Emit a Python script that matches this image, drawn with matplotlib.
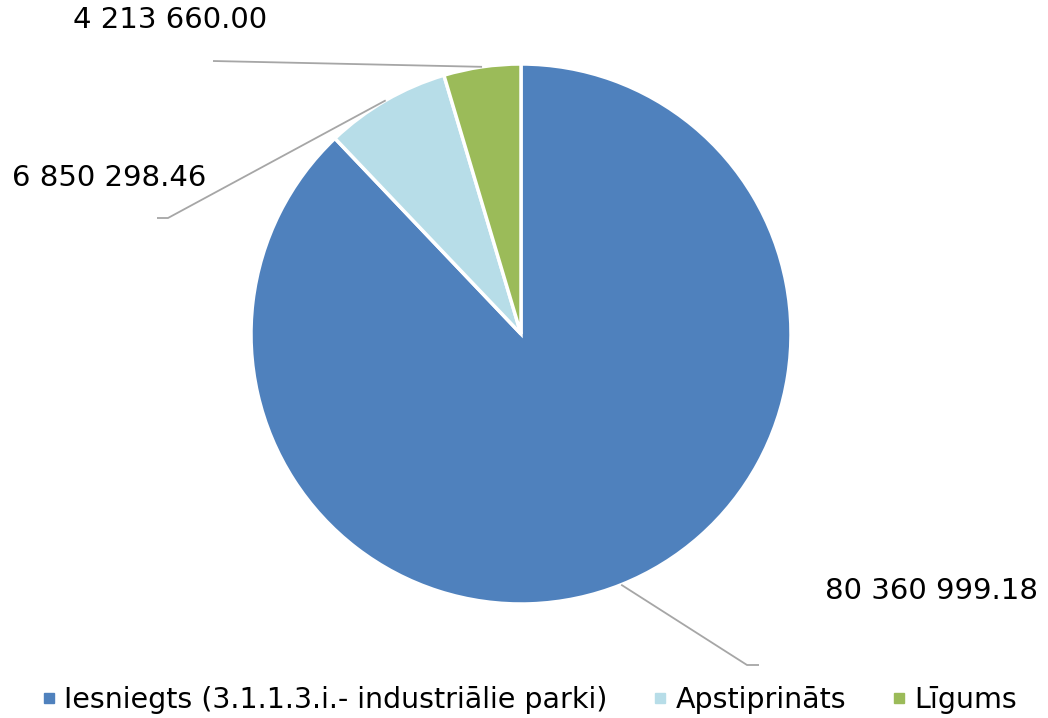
import numpy as np
import matplotlib.pyplot as plt
from matplotlib.lines import Line2D

categories = ['Iesniegts (3.1.1.3.i.- industriālie parki)', 'Apstiprināts', 'Līgums']
values = [80360999.18, 6850298.46, 4213660.00]
value_labels = ['80 360 999.18', '6 850 298.46', '4 213 660.00']
colors = ['#4F81BD', '#B7DDE8', '#9BBB59']

W, H = 1048, 718

def py(y):
    # pixel row (from top) -> data y
    return H - y

fig = plt.figure(figsize=(W / 100, H / 100), dpi=100)
ax = fig.add_axes([0, 0, 1, 1])

cx, cy, r = 521, py(334), 270
wedges, _ = ax.pie(values, colors=colors, startangle=90, counterclock=False,
                   center=(cx, cy), radius=r,
                   wedgeprops=dict(edgecolor='white', linewidth=2.5))
ax.set_xlim(0, W)
ax.set_ylim(0, H)
ax.set_aspect('equal')
ax.axis('off')

# label layout: (text x, text y, knee x, knee y, tail x) in pixels
layout = [
    (825, 591, 747, 665, 759),
    (12, 178, 168, 218, 157),
    (73, 20, 213, 61, 213),
]

for w, lab, (tx, ty, kx, ky, ex) in zip(wedges, value_labels, layout):
    mid = np.deg2rad((w.theta1 + w.theta2) / 2)
    sx, sy = cx + r * np.cos(mid), cy + r * np.sin(mid)
    ax.plot([sx, kx, ex], [sy, py(ky), py(ky)], color='#A6A6A6', lw=1.3,
            solid_capstyle='butt')
    ax.text(tx, py(ty), lab, fontsize=21, ha='left', va='center', color='black')

handles = [Line2D([], [], marker='s', linestyle='none', markersize=6.5,
                  markerfacecolor=c, markeredgecolor=c) for c in colors]
fig.legend(handles, categories, loc='center', bbox_to_anchor=(529 / W, 1 - 700 / H),
           ncol=3, frameon=False, fontsize=20.5, handlelength=0.55, handletextpad=0.25,
           columnspacing=1.6, borderpad=0)

fig.savefig('out.png', dpi=100)
